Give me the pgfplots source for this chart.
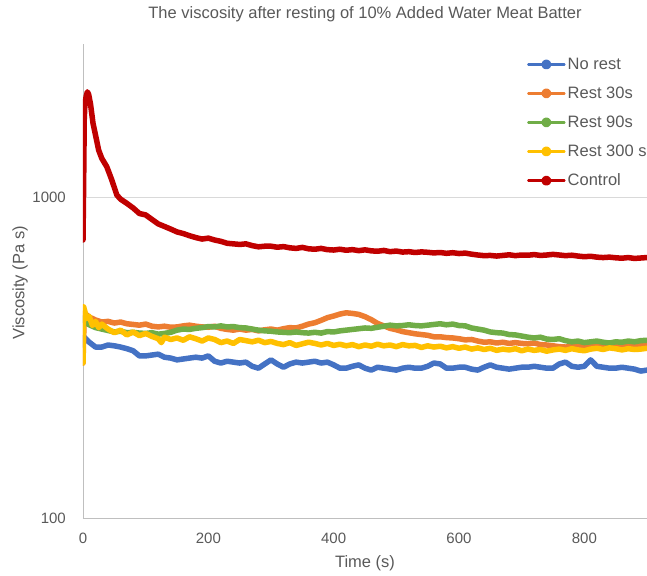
\documentclass[border=0pt]{standalone}
\usepackage{pgfplots}
\pgfplotsset{compat=1.18}
\usepackage{fontspec}
\setmainfont{Liberation Sans}
\definecolor{cblue}{HTML}{4472C4}
\definecolor{corange}{HTML}{ED7D31}
\definecolor{cgreen}{HTML}{70AD47}
\definecolor{cyellow}{HTML}{FFC000}
\definecolor{cred}{HTML}{C00000}
\definecolor{textgray}{HTML}{595959}
\definecolor{axisgray}{HTML}{BFBFBF}
\definecolor{gridgray}{HTML}{D9D9D9}
\begin{document}
\begin{tikzpicture}
\begin{axis}[
  scale only axis, width=564pt, height=474pt,
  at={(0,0)}, anchor=south west,
  xmin=0, xmax=900, ymode=log, ymin=100, ymax=3000,
  axis x line*=bottom, axis y line*=left,
  axis line style={draw=axisgray, line width=0.8pt, -},
  ymajorgrids, yminorgrids=false, grid style={draw=gridgray, line width=0.8pt},
  xtick={0,200,400,600,800}, xticklabels={0,200,400,600,800},
  ytick={100,1000}, yticklabels={100,1000},
  minor ytick={}, 
  major tick length=0pt, minor tick length=0pt,
  /pgf/number format/assume math mode=true,
  tick label style={font=\fontsize{15}{18}\selectfont, text=textgray, inner sep=0pt},
  xticklabel style={anchor=center, yshift=-20pt},
  yticklabel style={anchor=east, xshift=-17pt},
  title={The viscosity after resting of 10\% Added Water Meat Batter},
  title style={at={(0.5,1.0505)}, anchor=center, font=\fontsize{16.5}{19}\selectfont, text=textgray},
  xlabel={Time (s)},
  xlabel style={at={(0.5,-0.0949)}, anchor=center, font=\fontsize{16.5}{19}\selectfont, text=textgray},
  ylabel={Viscosity (Pa s)},
  ylabel style={at={(-0.1117,0.496)}, anchor=center, font=\fontsize{16.5}{19}\selectfont, text=textgray},
  every axis plot/.append style={line width=5.5pt, line join=round, line cap=round, mark=none},
  legend image code/.code={\draw[#1, line width=2.6pt] (0pt,0pt) -- (36pt,0pt); \fill[#1] (18pt,0pt) circle (2.2pt);},
  legend cell align=left,
  legend style={at={(0.787,0.975)}, anchor=north west, draw=none, fill=none,
    font=\fontsize{16.5}{19}\selectfont, text=textgray, row sep=12pt, inner sep=0pt},
]
\addplot[cblue] coordinates {
(0,346)(2,366)(10,353)(20,341)(30,341)(40,346)(50,344)(60,341)(70,337)(80,332)
(90,320)(100,320)(110,322)(120,324)(130,317)(140,315)(150,311)(160,313)(170,315)(180,317)
(190,315)(200,320)(210,308)(220,304)(230,308)(240,306)(250,304)(260,306)(270,297)(280,293)
(290,302)(300,311)(310,302)(320,295)(330,302)(340,306)(350,304)(360,306)(370,308)(380,304)
(390,306)(400,300)(410,293)(420,293)(430,297)(440,300)(450,293)(460,289)(470,295)(480,293)
(490,291)(500,289)(510,293)(520,295)(530,293)(540,293)(550,297)(560,304)(570,302)(580,293)
(590,293)(600,295)(610,295)(620,291)(630,289)(640,295)(650,300)(660,295)(670,293)(680,291)
(690,293)(700,295)(710,295)(720,297)(730,295)(740,293)(750,293)(760,302)(770,306)(780,297)
(790,295)(800,297)(810,311)(820,297)(830,295)(840,293)(850,293)(860,295)(870,293)(880,291)
(890,287)(900,289)};
\addlegendentry{No rest}
\addplot[corange] coordinates {
(0,304)(2,435)(10,423)(20,414)(30,408)(40,410)(50,405)(60,408)(70,403)(80,401)
(90,399)(100,402)(110,396)(120,394)(130,396)(140,393)(150,394)(160,397)(170,399)(180,396)
(190,394)(200,393)(210,396)(220,390)(230,387)(240,385)(250,388)(260,385)(270,387)(280,383)
(290,386)(300,388)(310,385)(320,389)(330,392)(340,391)(350,396)(360,402)(370,406)(380,413)
(390,421)(400,426)(410,432)(420,436)(430,434)(440,431)(450,424)(460,415)(470,404)(480,397)
(490,390)(500,386)(510,381)(520,378)(530,375)(540,373)(550,371)(560,367)(570,367)(580,365)
(590,364)(600,362)(610,359)(620,360)(630,356)(640,353)(650,354)(660,351)(670,353)(680,350)
(690,352)(700,350)(710,349)(720,351)(730,347)(740,346)(750,344)(760,342)(770,341)(780,343)
(790,341)(800,344)(810,342)(820,345)(830,343)(840,346)(850,344)(860,346)(870,347)(880,345)
(890,347)(900,346)};
\addlegendentry{Rest 30s}
\addplot[cgreen] coordinates {
(0,420)(5,405)(10,400)(20,392)(30,388)(40,384)(50,380)(60,382)(70,378)(80,379)
(90,377)(100,376)(110,378)(120,374)(130,376)(140,379)(150,385)(160,388)(170,387)(180,390)
(190,392)(200,395)(210,394)(220,397)(230,394)(240,395)(250,392)(260,391)(270,388)(280,385)
(290,383)(300,382)(310,380)(320,379)(330,378)(340,380)(350,378)(360,377)(370,379)(380,377)
(390,381)(400,380)(410,383)(420,385)(430,387)(440,389)(450,391)(460,390)(470,393)(480,396)
(490,399)(500,397)(510,398)(520,400)(530,398)(540,397)(550,399)(560,401)(570,403)(580,400)
(590,402)(600,398)(610,397)(620,391)(630,388)(640,385)(650,380)(660,378)(670,377)(680,373)
(690,372)(700,369)(710,366)(720,364)(730,366)(740,361)(750,360)(760,362)(770,357)(780,354)
(790,356)(800,352)(810,354)(820,356)(830,353)(840,351)(850,354)(860,353)(870,356)(880,354)
(890,357)(900,358)};
\addlegendentry{Rest 90s}
\addplot[cyellow] coordinates {
(0,304)(1,455)(3,440)(6,418)(10,425)(15,398)(20,410)(25,392)(30,402)(40,388)
(50,378)(60,385)(70,372)(80,380)(90,370)(100,376)(110,368)(120,362)(125,352)(130,366)
(140,360)(150,364)(160,358)(170,367)(180,362)(190,356)(200,364)(210,360)(220,352)(230,356)
(240,350)(250,360)(260,357)(270,354)(280,358)(290,352)(300,355)(310,350)(320,347)(330,352)
(340,345)(350,349)(360,353)(370,350)(380,346)(390,350)(400,345)(410,348)(420,344)(430,347)
(440,342)(450,346)(460,343)(470,348)(480,344)(490,346)(500,342)(510,347)(520,344)(530,345)
(540,340)(550,344)(560,341)(570,343)(580,339)(590,342)(600,338)(610,341)(620,336)(630,339)
(640,335)(650,338)(660,333)(670,336)(680,334)(690,337)(700,332)(710,336)(720,333)(730,335)
(740,331)(750,334)(760,336)(770,333)(780,337)(790,334)(800,332)(810,336)(820,338)(830,335)
(840,339)(850,337)(860,334)(870,337)(880,335)(890,336)(900,338)};
\addlegendentry{Rest 300 s}
\addplot[cred] coordinates {
(0,735)(1,1084)(2,1750)(3,1935)(5,2060)(7,2128)(9,2090)(12,1950)(16,1698)(20,1560)
(25,1400)(30,1320)(38,1243)(46,1130)(54,1015)(60,985)(70,956)(80,925)(90,889)(100,880)
(110,852)(120,825)(130,810)(140,795)(150,779)(160,770)(170,758)(180,748)(190,740)(200,745)
(210,735)(220,728)(230,718)(240,715)(250,712)(260,715)(270,706)(280,700)(290,703)(300,703)
(310,698)(320,701)(330,695)(340,692)(350,697)(360,690)(370,688)(380,692)(390,686)(400,684)
(410,688)(420,683)(430,686)(440,681)(450,685)(460,680)(470,678)(480,682)(490,676)(500,679)
(510,674)(520,676)(530,672)(540,675)(550,673)(560,670)(570,672)(580,668)(590,671)(600,667)
(610,669)(620,664)(630,660)(640,657)(650,658)(660,655)(670,658)(680,661)(690,657)(700,660)
(710,659)(720,662)(730,658)(740,660)(750,663)(760,660)(770,657)(780,659)(790,655)(800,652)
(810,654)(820,650)(830,648)(840,650)(850,647)(860,645)(870,648)(880,644)(890,646)(900,648)};
\addlegendentry{Control}
\end{axis}
\pgfresetboundingbox
\path (-83pt,-57pt) rectangle (564pt,518pt);
\end{tikzpicture}
\end{document}
